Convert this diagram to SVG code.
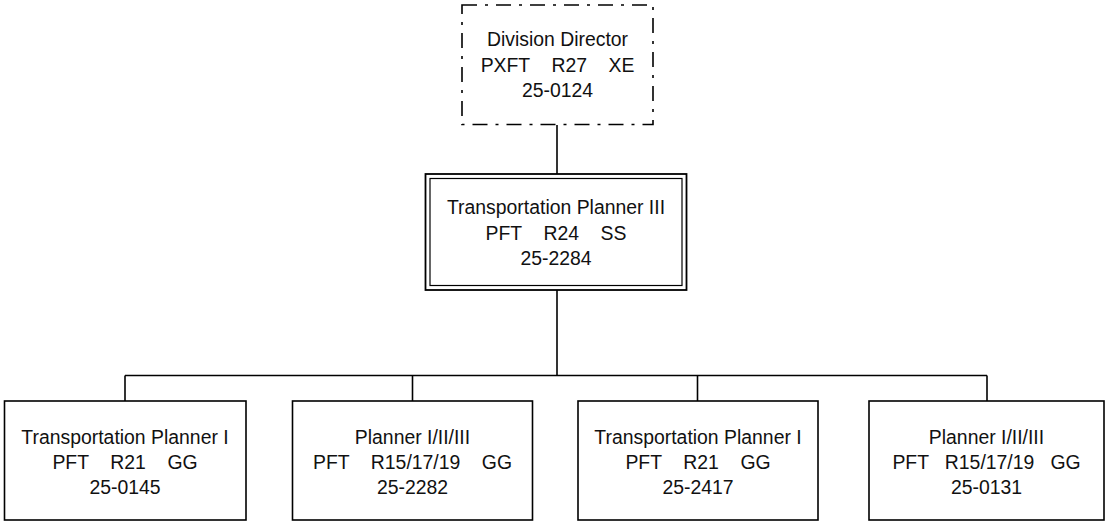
<svg xmlns="http://www.w3.org/2000/svg" width="1107" height="522" viewBox="0 0 1107 522">
<style>
.box{fill:#fff;stroke:#000;stroke-width:1.6}
.dd{fill:#fff;stroke:#000;stroke-width:1.6;stroke-dasharray:15 8 3 8}
.outer{fill:#fff;stroke:#000;stroke-width:1.8}
.inner{fill:none;stroke:#000;stroke-width:1.2}
.conn{fill:none;stroke:#000;stroke-width:1.6}
text{font-family:"Liberation Sans",Arial,sans-serif;font-size:19.4px;fill:#111;text-anchor:middle;white-space:pre}
</style>
<g id="connectors">
<line class="conn" x1="557" y1="125" x2="557" y2="174"/>
<line class="conn" x1="557" y1="290" x2="557" y2="375.5"/>
<line class="conn" x1="125" y1="375.5" x2="987" y2="375.5"/>
<line class="conn" x1="125" y1="375.5" x2="125" y2="401"/>
<line class="conn" x1="412.5" y1="375.5" x2="412.5" y2="401"/>
<line class="conn" x1="697.5" y1="375.5" x2="697.5" y2="401"/>
<line class="conn" x1="987" y1="375.5" x2="987" y2="401"/>
</g>
<g id="division-director">
<rect class="dd" x="462" y="5" width="191" height="119.5"/>
<text x="557.5" y="46">Division Director</text>
<text x="557.5" y="71.5">PXFT    R27    XE</text>
<text x="557.5" y="97">25-0124</text>
</g>
<g id="transportation-planner-iii">
<rect class="outer" x="425.5" y="174" width="261" height="116"/>
<rect class="inner" x="430" y="178.5" width="252" height="107"/>
<text x="556" y="213.5">Transportation Planner III</text>
<text x="556" y="239.5">PFT    R24    SS</text>
<text x="556" y="265">25-2284</text>
</g>
<g id="tp1-0145">
<rect class="box" x="4.5" y="401" width="241.5" height="119"/>
<text x="125" y="443.5">Transportation Planner I</text>
<text x="125" y="469">PFT    R21    GG</text>
<text x="125" y="494">25-0145</text>
</g>
<g id="planner-2282">
<rect class="box" x="292.5" y="401" width="240" height="119"/>
<text x="412.5" y="443.5">Planner I/II/III</text>
<text x="412.5" y="469">PFT    R15/17/19    GG</text>
<text x="412.5" y="494">25-2282</text>
</g>
<g id="tp1-2417">
<rect class="box" x="578" y="401" width="240" height="119"/>
<text x="698" y="443.5">Transportation Planner I</text>
<text x="698" y="469">PFT    R21    GG</text>
<text x="698" y="494">25-2417</text>
</g>
<g id="planner-0131">
<rect class="box" x="869" y="401" width="235" height="119"/>
<text x="986.5" y="443.5">Planner I/II/III</text>
<text x="986.5" y="469">PFT   R15/17/19   GG</text>
<text x="986.5" y="494">25-0131</text>
</g>
</svg>
